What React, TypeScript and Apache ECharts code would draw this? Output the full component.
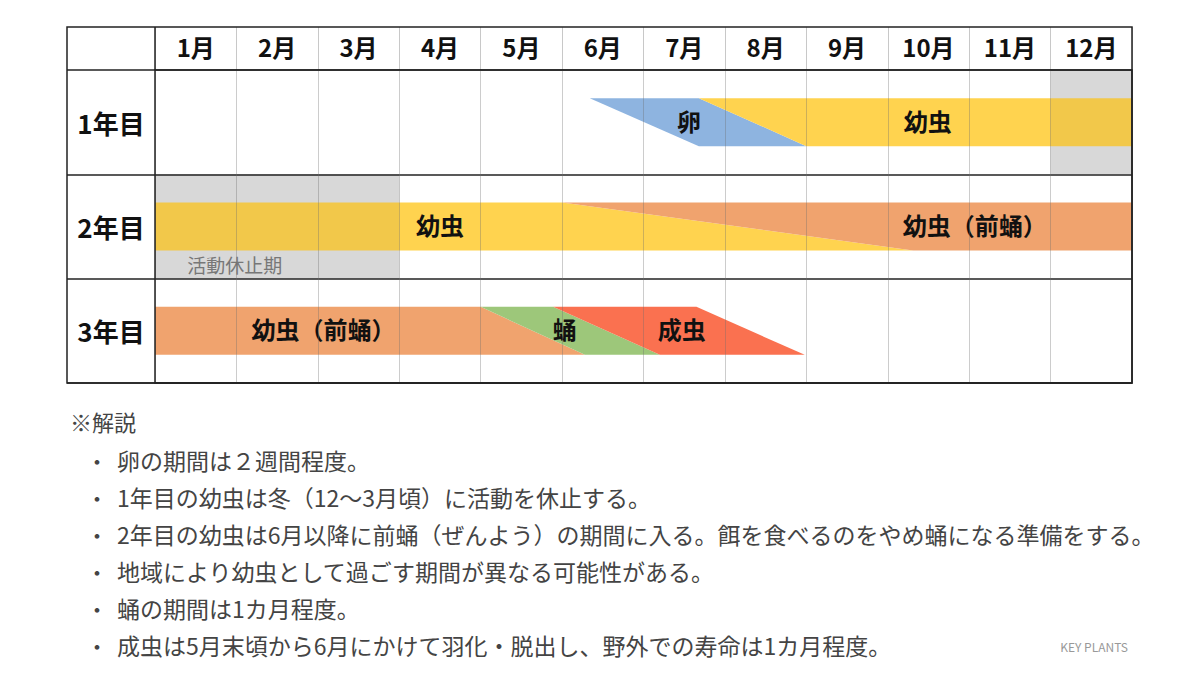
import React, { useEffect, useRef } from "react";
import * as echarts from "echarts";

// ---- data ----
const months = ["1月", "2月", "3月", "4月", "5月", "6月", "7月", "8月", "9月", "10月", "11月", "12月"];
const years = ["1年目", "2年目", "3年目"];

// [row, start month, end month]
const restPeriods = [
  [0, 11, 12],
  [1, 0, 3],
];
// [row, x (month), y within row, text]
const restLabels = [[1, 0.98, 0.86, "活動休止期"]];

// [row, topStart, topEnd, bottomStart, bottomEnd]
const eggPhase = [[0, 5.34, 6.68, 6.68, 8.0]];
const larvaPhase = [
  [0, 6.68, 12, 8.0, 12],
  [1, 0, 5.0, 0, 9.31],
];
const prepupaPhase = [
  [1, 5.0, 12, 9.31, 12],
  [2, 0, 4.0, 0, 5.28],
];
const pupaPhase = [[2, 4.0, 4.89, 5.28, 6.2]];
const adultPhase = [[2, 4.89, 6.65, 6.2, 7.98]];

// [row, x center (month), text]
const phaseLabels = [
  [0, 6.56, "卵"],
  [0, 9.49, "幼虫"],
  [1, 3.5, "幼虫"],
  [1, 10.07, "幼虫（前蛹）"],
  [2, 2.07, "幼虫（前蛹）"],
  [2, 5.03, "蛹"],
  [2, 6.47, "成虫"],
];

const noteTitle = "※解説";
const notes = [
  "卵の期間は２週間程度。",
  "1年目の幼虫は冬（12〜3月頃）に活動を休止する。",
  "2年目の幼虫は6月以降に前蛹（ぜんよう）の期間に入る。餌を食べるのをやめ蛹になる準備をする。",
  "地域により幼虫として過ごす期間が異なる可能性がある。",
  "蛹の期間は1カ月程度。",
  "成虫は5月末頃から6月にかけて羽化・脱出し、野外での寿命は1カ月程度。",
];
const credit = "KEY PLANTS";

// ---- layout ----
const TABLE_LEFT = 67;
const TABLE_TOP = 27;
const GRID_LEFT = 155;
const GRID_TOP = 70;
const GRID_RIGHT = 1132;
const GRID_BOTTOM = 383;
const BAND_TOP = 0.27;
const BAND_BOTTOM = 0.73;
const LABEL_Y = 0.48;
const FONT = '"Noto Sans CJK JP", "Noto Sans", sans-serif';

const COLORS = {
  egg: "#8eb4e0",
  larva: "#ffd34f",
  prepupa: "#f0a36e",
  pupa: "#9dc77a",
  adult: "#fa7150",
  restBase: "#e4e4e4",
  restOverlay: "rgba(0,0,0,0.05)",
};

function phaseSeries(name: string, data: number[][], color: string) {
  return {
    type: "custom",
    name,
    xAxisIndex: 0,
    yAxisIndex: 0,
    z: 2,
    data,
    renderItem: (params: any, api: any) => {
      const r = api.value(0);
      const pts = [
        api.coord([api.value(1), r + BAND_TOP]),
        api.coord([api.value(2), r + BAND_TOP]),
        api.coord([api.value(4), r + BAND_BOTTOM]),
        api.coord([api.value(3), r + BAND_BOTTOM]),
      ];
      return { type: "polygon", shape: { points: pts }, style: { fill: color } };
    },
  };
}

function restSeries(name: string, fill: string, z: number) {
  return {
    type: "custom",
    name,
    xAxisIndex: 0,
    yAxisIndex: 0,
    z,
    data: restPeriods,
    renderItem: (params: any, api: any) => {
      const r = api.value(0);
      const p0 = api.coord([api.value(1), r]);
      const p1 = api.coord([api.value(2), r + 1]);
      return {
        type: "rect",
        shape: { x: p0[0], y: p0[1], width: p1[0] - p0[0], height: p1[1] - p0[1] },
        style: { fill },
      };
    },
  };
}

export default function App() {
  const ref = useRef<HTMLDivElement>(null);
  useEffect(() => {
    if (!ref.current) return;
    const chart = echarts.init(ref.current, null, { renderer: "svg" });
    const W = 1200;
    const H = 675;
    const option: any = {
      animation: false,
      backgroundColor: "#ffffff",
      grid: {
        left: GRID_LEFT,
        top: GRID_TOP,
        right: W - GRID_RIGHT,
        bottom: H - GRID_BOTTOM,
        show: true,
        borderColor: "#222",
        borderWidth: 1.5,
        z: 6,
      },
      xAxis: [
        {
          type: "value",
          min: 0,
          max: 12,
          interval: 1,
          z: 5,
          axisLabel: { show: false },
          axisLine: { show: false },
          axisTick: { show: false },
          splitLine: { show: true, lineStyle: { color: "rgba(110,110,110,0.35)", width: 1 } },
        },
        {
          type: "category",
          position: "top",
          data: months,
          boundaryGap: true,
          axisLine: { show: false },
          axisTick: {
            show: true,
            interval: 0,
            inside: false,
            length: GRID_TOP - TABLE_TOP,
            lineStyle: { color: "#c8c8c8", width: 1 },
          },
          axisLabel: {
            interval: 0,
            margin: 12,
            fontSize: 24,
            fontWeight: "bold",
            color: "#111",
            fontFamily: FONT,
          },
        },
      ],
      yAxis: [
        {
          type: "value",
          min: 0,
          max: 3,
          interval: 1,
          inverse: true,
          z: 5,
          axisLabel: { show: false },
          axisLine: { show: false },
          axisTick: { show: false },
          splitLine: { show: true, lineStyle: { color: "#222", width: 1.5 } },
        },
        {
          type: "category",
          position: "left",
          inverse: true,
          data: years,
          boundaryGap: true,
          axisLine: { show: false },
          axisTick: {
            show: true,
            interval: 0,
            length: GRID_LEFT - TABLE_LEFT,
            lineStyle: { color: "#222", width: 1.5 },
          },
          axisLabel: {
            interval: 0,
            margin: (GRID_LEFT - TABLE_LEFT) / 2,
            align: "center",
            fontSize: 26,
            fontWeight: "bold",
            color: "#111",
            fontFamily: FONT,
            padding: [0, 0, 5, 0],
          },
        },
      ],
      series: [
        restSeries("活動休止期", COLORS.restBase, 1),
        phaseSeries("卵", eggPhase, COLORS.egg),
        phaseSeries("幼虫", larvaPhase, COLORS.larva),
        phaseSeries("幼虫（前蛹）", prepupaPhase, COLORS.prepupa),
        phaseSeries("蛹", pupaPhase, COLORS.pupa),
        phaseSeries("成虫", adultPhase, COLORS.adult),
        restSeries("活動休止期overlay", COLORS.restOverlay, 3),
        {
          type: "custom",
          name: "restLabels",
          xAxisIndex: 0,
          yAxisIndex: 0,
          z: 4,
          data: restLabels,
          renderItem: (params: any, api: any) => {
            const item = restLabels[params.dataIndex];
            const p = api.coord([item[1], (item[0] as number) + (item[2] as number)]);
            return {
              type: "text",
              x: p[0],
              y: p[1],
              style: {
                text: item[3],
                fill: "#777",
                font: `19px ${FONT}`,
                align: "center",
                verticalAlign: "middle",
              },
            };
          },
        },
        {
          type: "custom",
          name: "labels",
          xAxisIndex: 0,
          yAxisIndex: 0,
          z: 4,
          data: phaseLabels,
          renderItem: (params: any, api: any) => {
            const item = phaseLabels[params.dataIndex];
            const p = api.coord([item[1], (item[0] as number) + LABEL_Y]);
            return {
              type: "text",
              x: p[0],
              y: p[1],
              style: {
                text: item[2],
                fill: "#111",
                font: `bold 24px ${FONT}`,
                align: "center",
                verticalAlign: "middle",
              },
            };
          },
        },
      ],
      graphic: [
        {
          type: "rect",
          z: 10,
          shape: {
            x: TABLE_LEFT,
            y: TABLE_TOP,
            width: GRID_RIGHT - TABLE_LEFT,
            height: GRID_BOTTOM - TABLE_TOP,
          },
          style: { fill: "none", stroke: "#222", lineWidth: 1.5 },
        },
        {
          type: "line",
          z: 10,
          shape: { x1: GRID_LEFT, y1: TABLE_TOP, x2: GRID_LEFT, y2: GRID_TOP },
          style: { stroke: "#222", lineWidth: 1.5 },
        },
        {
          type: "text",
          x: 70,
          y: 421,
          style: {
            text: noteTitle,
            fill: "#444",
            font: `22px ${FONT}`,
            verticalAlign: "middle",
          },
        },
        ...notes.flatMap((t, i) => [
          {
            type: "text",
            x: 97,
            y: 460 + i * 37,
            style: { text: "・", fill: "#444", font: `22px ${FONT}`, align: "center", verticalAlign: "middle" },
          },
          {
            type: "text",
            x: 117,
            y: 460 + i * 37,
            style: { text: t, fill: "#444", font: `23px ${FONT}`, verticalAlign: "middle" },
          },
        ]),
        {
          type: "text",
          x: 1128,
          y: 646,
          style: { text: credit, fill: "#999", font: `12px ${FONT}`, align: "right", verticalAlign: "middle" },
        },
      ],
    };
    chart.setOption(option);
    return () => chart.dispose();
  }, []);
  return (
    <div
      ref={ref}
      style={{ position: "absolute", left: 0, top: 0, width: 1200, height: 675, background: "#fff" }}
    />
  );
}
